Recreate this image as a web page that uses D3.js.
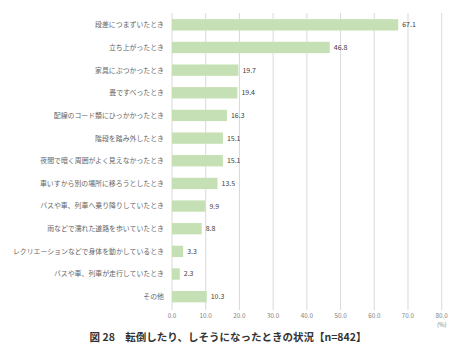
<!DOCTYPE html>
<html><head><meta charset="utf-8">
<script src="https://cdn.jsdelivr.net/npm/d3@7"></script>
<style>body{margin:0;background:#fff;}svg{display:block;font-family:"Noto Sans CJK JP","Noto Sans",sans-serif;}</style>
</head><body><svg id="c" width="474" height="358"></svg>
<script>
const categories = ["段差につまずいたとき","立ち上がったとき","家具にぶつかったとき","畳ですべったとき","配線のコード類にひっかかったとき","階段を踏み外したとき","夜間で暗く周囲がよく見えなかったとき","車いすから別の場所に移ろうとしたとき","バスや車、列車へ乗り降りしていたとき","雨などで濡れた道路を歩いていたとき","レクリエーションなどで身体を動かしているとき","バスや車、列車が走行していたとき","その他"];
const values = [67.1,46.8,19.7,19.4,16.3,15.1,15.1,13.5,9.9,8.8,3.3,2.3,10.3];
const ticks = [0,10,20,30,40,50,60,70,80];
const title = "図 28　転倒したり、しそうになったときの状況【n=842】";
const unit = "(%)";

const svg = d3.select("#c");
const x = d3.scaleLinear().domain([0,80]).range([172,441.7]);
const y = d3.scaleBand().domain(categories).range([13.5,308]).paddingInner(0.5).paddingOuter(0.25);

svg.append("g").selectAll("line").data(ticks).join("line")
  .attr("x1",d=>x(d)).attr("x2",d=>x(d)).attr("y1",13).attr("y2",310)
  .attr("stroke","#d9d9d9").attr("stroke-width",1);

svg.append("g").selectAll("rect").data(values).join("rect")
  .attr("x",x(0)).attr("y",(d,i)=>y(categories[i]))
  .attr("width",d=>x(d)-x(0)).attr("height",y.bandwidth())
  .attr("fill","#c5e0b4");

svg.append("g").selectAll("text").data(values).join("text")
  .attr("x",d=>x(d)+4).attr("y",(d,i)=>y(categories[i])+y.bandwidth()/2)
  .attr("dy","0.35em").attr("font-size",7).attr("fill","#404040")
  .text(d=>d.toFixed(1));

svg.append("g").selectAll("text").data(categories).join("text")
  .attr("x",164).attr("y",d=>y(d)+y.bandwidth()/2)
  .attr("dy","0.35em").attr("text-anchor","end").attr("font-size",6.9).attr("fill","#666")
  .text(d=>d);

svg.append("g").selectAll("text").data(ticks).join("text")
  .attr("x",d=>x(d)).attr("y",316).attr("dy","0.35em").attr("text-anchor","middle")
  .attr("font-size",6.3).attr("fill","#808080").text(d=>d.toFixed(1));

svg.append("text").attr("x",x(80)).attr("y",324.5).attr("dy","0.35em").attr("text-anchor","middle")
  .attr("font-size",6).attr("fill","#808080").text(unit);

svg.append("text").attr("x",228).attr("y",337).attr("dy","0.35em").attr("text-anchor","middle")
  .attr("font-size",10.5).attr("font-weight","bold").attr("fill","#333").text(title);
</script></body></html>
